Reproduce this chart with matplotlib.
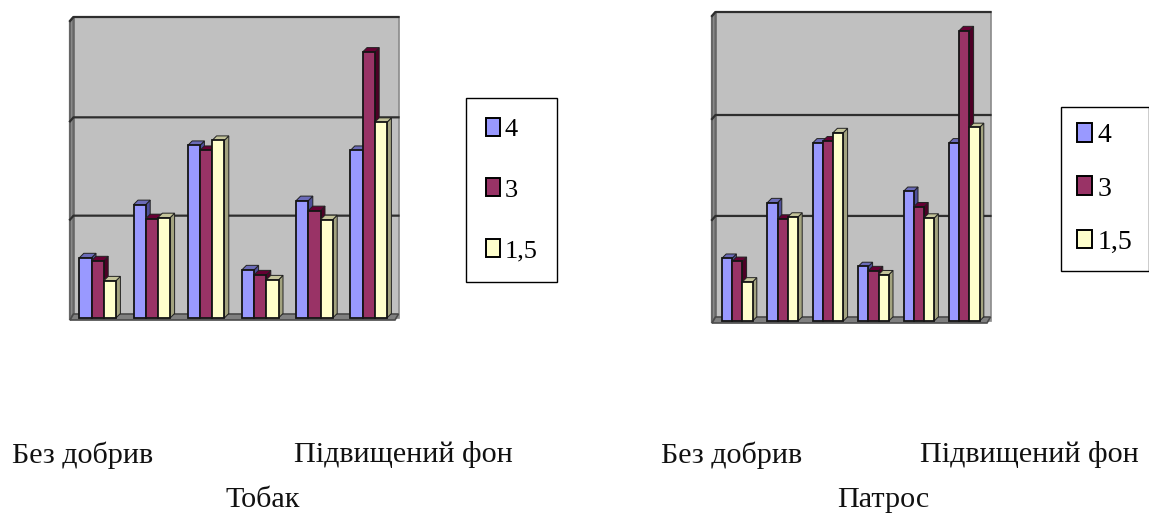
import numpy as np
import matplotlib
matplotlib.use('Agg')
import matplotlib.pyplot as plt
from matplotlib.patches import Patch

W, H = 1149, 516
plt.rcParams['font.family'] = ['Liberation Serif', 'DejaVu Serif']

series_names = ['4', '3', '1,5']
front_colors = ['#9999FF', '#993366', '#FFFFCC']
top_colors = ['#6B6BB8', '#660033', '#C4C49A']
side_colors = ['#4F4F99', '#4D0026', '#A3A37F']

tobak_4 = [0.60, 1.13, 1.72, 0.48, 1.17, 1.67]
tobak_3 = [0.57, 0.99, 1.67, 0.43, 1.07, 2.65]
tobak_15 = [0.37, 1.00, 1.77, 0.38, 0.98, 1.95]

patros_4 = [0.61, 1.15, 1.73, 0.53, 1.26, 1.73]
patros_3 = [0.58, 0.99, 1.75, 0.49, 1.11, 2.82]
patros_15 = [0.38, 1.01, 1.83, 0.45, 1.00, 1.88]

grid_levels = [1.02, 2.0, 3.0]


def add_axes_px(left, top, right, bottom):
    return fig.add_axes([left / W, 1 - bottom / H, (right - left) / W, (bottom - top) / H])


def draw_chart(box, first_center, spacing, bar_px, depth_px, series):
    left, top, right, bottom = box
    ax = add_axes_px(left, top, right, bottom)
    ax.set_xlim((left - first_center) / spacing, (right - first_center) / spacing)
    ax.set_ylim(0, 3)
    ax.axis('off')

    # px -> data units
    xu = 1 / spacing
    yu = 3 / (bottom - top)
    dx = depth_px * xu
    dy = depth_px * yu
    wx = 3.5 * xu
    wy = 4 * yu
    x0, x1 = ax.get_xlim()

    # walls and floor
    ax.fill([x0 - wx, x1 + wx, x1 + wx, x0 - wx], [0, 0, 3, 3], color='#C0C0C0', ec='#8A8A8A', lw=1.2, zorder=1, clip_on=False)
    ax.fill([x0 - 2 * wx, x0 - wx, x0 - wx, x0 - 2 * wx], [-wy * .5, wy, 3, 3 - wy], color='#8E8E8E', ec='#666666', lw=1.6, zorder=1, clip_on=False)
    ax.fill([x0 - 2 * wx, x1, x1 + wx, x0 - wx], [-wy * .5, -wy * .5, wy, wy], color='#808080', ec='#4A4A4A', lw=1.2, zorder=1, clip_on=False)
    for g in grid_levels:
        ax.plot([x0 - 2 * wx, x0 - wx, x1 + wx], [g - wy, g, g], color='#2E2E2E', lw=1.6, zorder=2, clip_on=False)

    width = bar_px * xu
    groups = np.arange(len(series[0]))
    z = 3
    for i in groups:
        for j, vals in enumerate(series):
            xl = i + (j - 1.5) * width
            v = vals[i]
            ax.fill([xl + width, xl + width + dx, xl + width + dx, xl + width], [0, dy, v + dy, v],
                    color=side_colors[j], ec='#222222', lw=0.7, zorder=z, clip_on=False)
            ax.fill([xl, xl + dx, xl + width + dx, xl + width], [v, v + dy, v + dy, v],
                    color=top_colors[j], ec='#222222', lw=0.7, zorder=z, clip_on=False)
            ax.bar(xl, v, width=width, align='edge', color=front_colors[j], ec='#151515', lw=1.3, zorder=z + 1, clip_on=False)
            z += 2
    return ax


def add_legend(ax, box_left, box_top, font, spacing, pad, hlen, hheight):
    handles = [Patch(fc=c, ec='black', lw=1.4) for c in front_colors]
    ax.legend(handles, series_names, loc='upper left',
              bbox_to_anchor=(box_left / W, 1 - box_top / H), bbox_transform=fig.transFigure,
              fancybox=False, framealpha=1, edgecolor='black', fontsize=font,
              handlelength=hlen, handleheight=hheight, handletextpad=0.2,
              labelspacing=spacing, borderpad=pad, borderaxespad=0)


def label(x, y, s):
    fig.text(x / W, 1 - y / H, s, fontsize=21.7, ha='left', va='center', color='#111111')


fig = plt.figure(figsize=(W / 100, H / 100), dpi=100)

ax1 = draw_chart((77, 17, 395, 318), 97.6, 54.2, 12.2, 4.5, [tobak_4, tobak_3, tobak_15])
ax2 = draw_chart((719, 12, 987, 321), 737.3, 45.4, 10.2, 4.2, [patros_4, patros_3, patros_15])

add_legend(ax1, 466, 98, 19, 1.42, 0.74, 0.53, 0.68)
add_legend(ax2, 1061, 107, 20, 1.02, 0.58, 0.54, 0.65)

label(12, 455, 'Без добрив')
label(294, 455, 'Підвищений фон')
label(226, 500, 'Тобак')
label(661, 455, 'Без добрив')
label(920, 455, 'Підвищений фон')
label(837, 500, 'Патрос')

fig.savefig('out.png', dpi=100)
